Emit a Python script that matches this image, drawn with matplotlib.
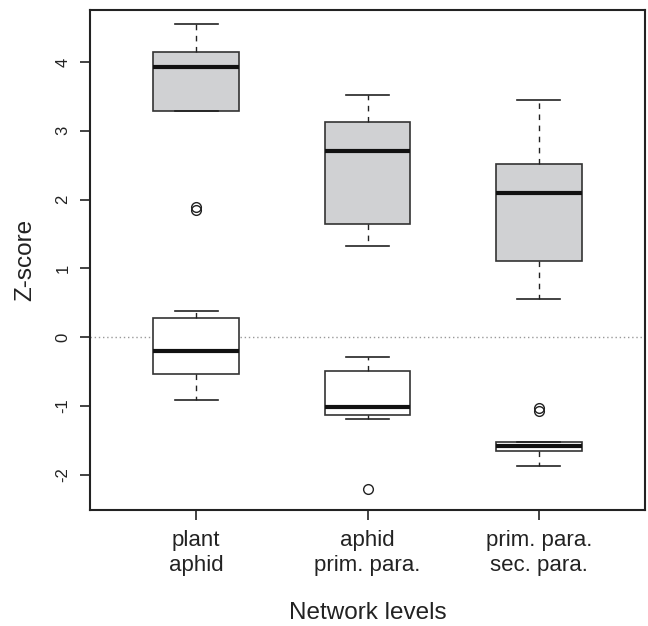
import numpy as np
import matplotlib.pyplot as plt

plt.rcParams['font.family'] = ['Liberation Sans', 'DejaVu Sans']

# network levels on the x axis
levels = ['plant\naphid', 'aphid\nprim. para.', 'prim. para.\nsec. para.']

# grey boxes (upper set)
grey_whislo = [3.29, 1.33, 0.56]
grey_q1 = [3.29, 1.65, 1.10]
grey_med = [3.92, 2.70, 2.09]
grey_q3 = [4.15, 3.13, 2.51]
grey_whishi = [4.55, 3.52, 3.45]
grey_fliers = [[1.85, 1.89], [], []]

# white boxes (lower set)
white_whislo = [-0.91, -1.19, -1.87]
white_q1 = [-0.54, -1.14, -1.66]
white_med = [-0.20, -1.02, -1.58]
white_q3 = [0.27, -0.50, -1.52]
white_whishi = [0.38, -0.29, -1.52]
white_fliers = [[], [-2.21], [-1.03, -1.07]]


def make_stats(lo, q1, med, q3, hi, fl):
    return [dict(whislo=a, q1=b, med=c, q3=d, whishi=e, fliers=f)
            for a, b, c, d, e, f in zip(lo, q1, med, q3, hi, fl)]


fig = plt.figure(figsize=(6.48, 6.26), dpi=100)
ax = fig.add_axes([0.1389, 0.1853, 0.8565, 0.7987])

pos = np.arange(1, len(levels) + 1)
common = dict(positions=pos, widths=0.5, patch_artist=True,
              whiskerprops=dict(color='#222222', lw=1, linestyle=(0, (4, 4))),
              capprops=dict(color='#222222', lw=1.2),
              medianprops=dict(color='#111111', lw=3, solid_capstyle='butt'),
              flierprops=dict(marker='o', markerfacecolor='none',
                              markeredgecolor='#222222', markersize=7, markeredgewidth=1))

ax.axhline(0, color='#999999', lw=1, linestyle=(0, (1, 2)), zorder=0)

ax.bxp(make_stats(grey_whislo, grey_q1, grey_med, grey_q3, grey_whishi, grey_fliers),
       boxprops=dict(facecolor='#d0d1d3', edgecolor='#333333', lw=1.2), **common)
ax.bxp(make_stats(white_whislo, white_q1, white_med, white_q3, white_whishi, white_fliers),
       boxprops=dict(facecolor='white', edgecolor='#333333', lw=1.2), **common)

ax.set_xlim(0.38, 3.62)
ax.set_ylim(-2.516, 4.756)
ax.set_xticks(pos)
ax.set_xticklabels(levels, fontsize=16, color='#222222', linespacing=1.25)
ax.set_yticks(range(-2, 5))
ax.set_yticklabels([str(v) for v in range(-2, 5)], rotation=90, va='center',
                   fontsize=12, color='#222222')
ax.tick_params(direction='out', length=7.2, width=1.2, color='#222222')
ax.tick_params(axis='y', pad=7)
ax.tick_params(axis='x', pad=7)

for s in ax.spines.values():
    s.set_linewidth(1.5)
    s.set_color('#222222')

fig.text(25 / 648, 1 - 260 / 626, 'Z-score', rotation=90, ha='center', va='center',
         fontsize=17.5, color='#222222')
fig.text(367.5 / 648, 1 - 619 / 626, 'Network levels', ha='center', va='baseline',
         fontsize=17.5, color='#222222')

fig.savefig('out.png', dpi=100)
